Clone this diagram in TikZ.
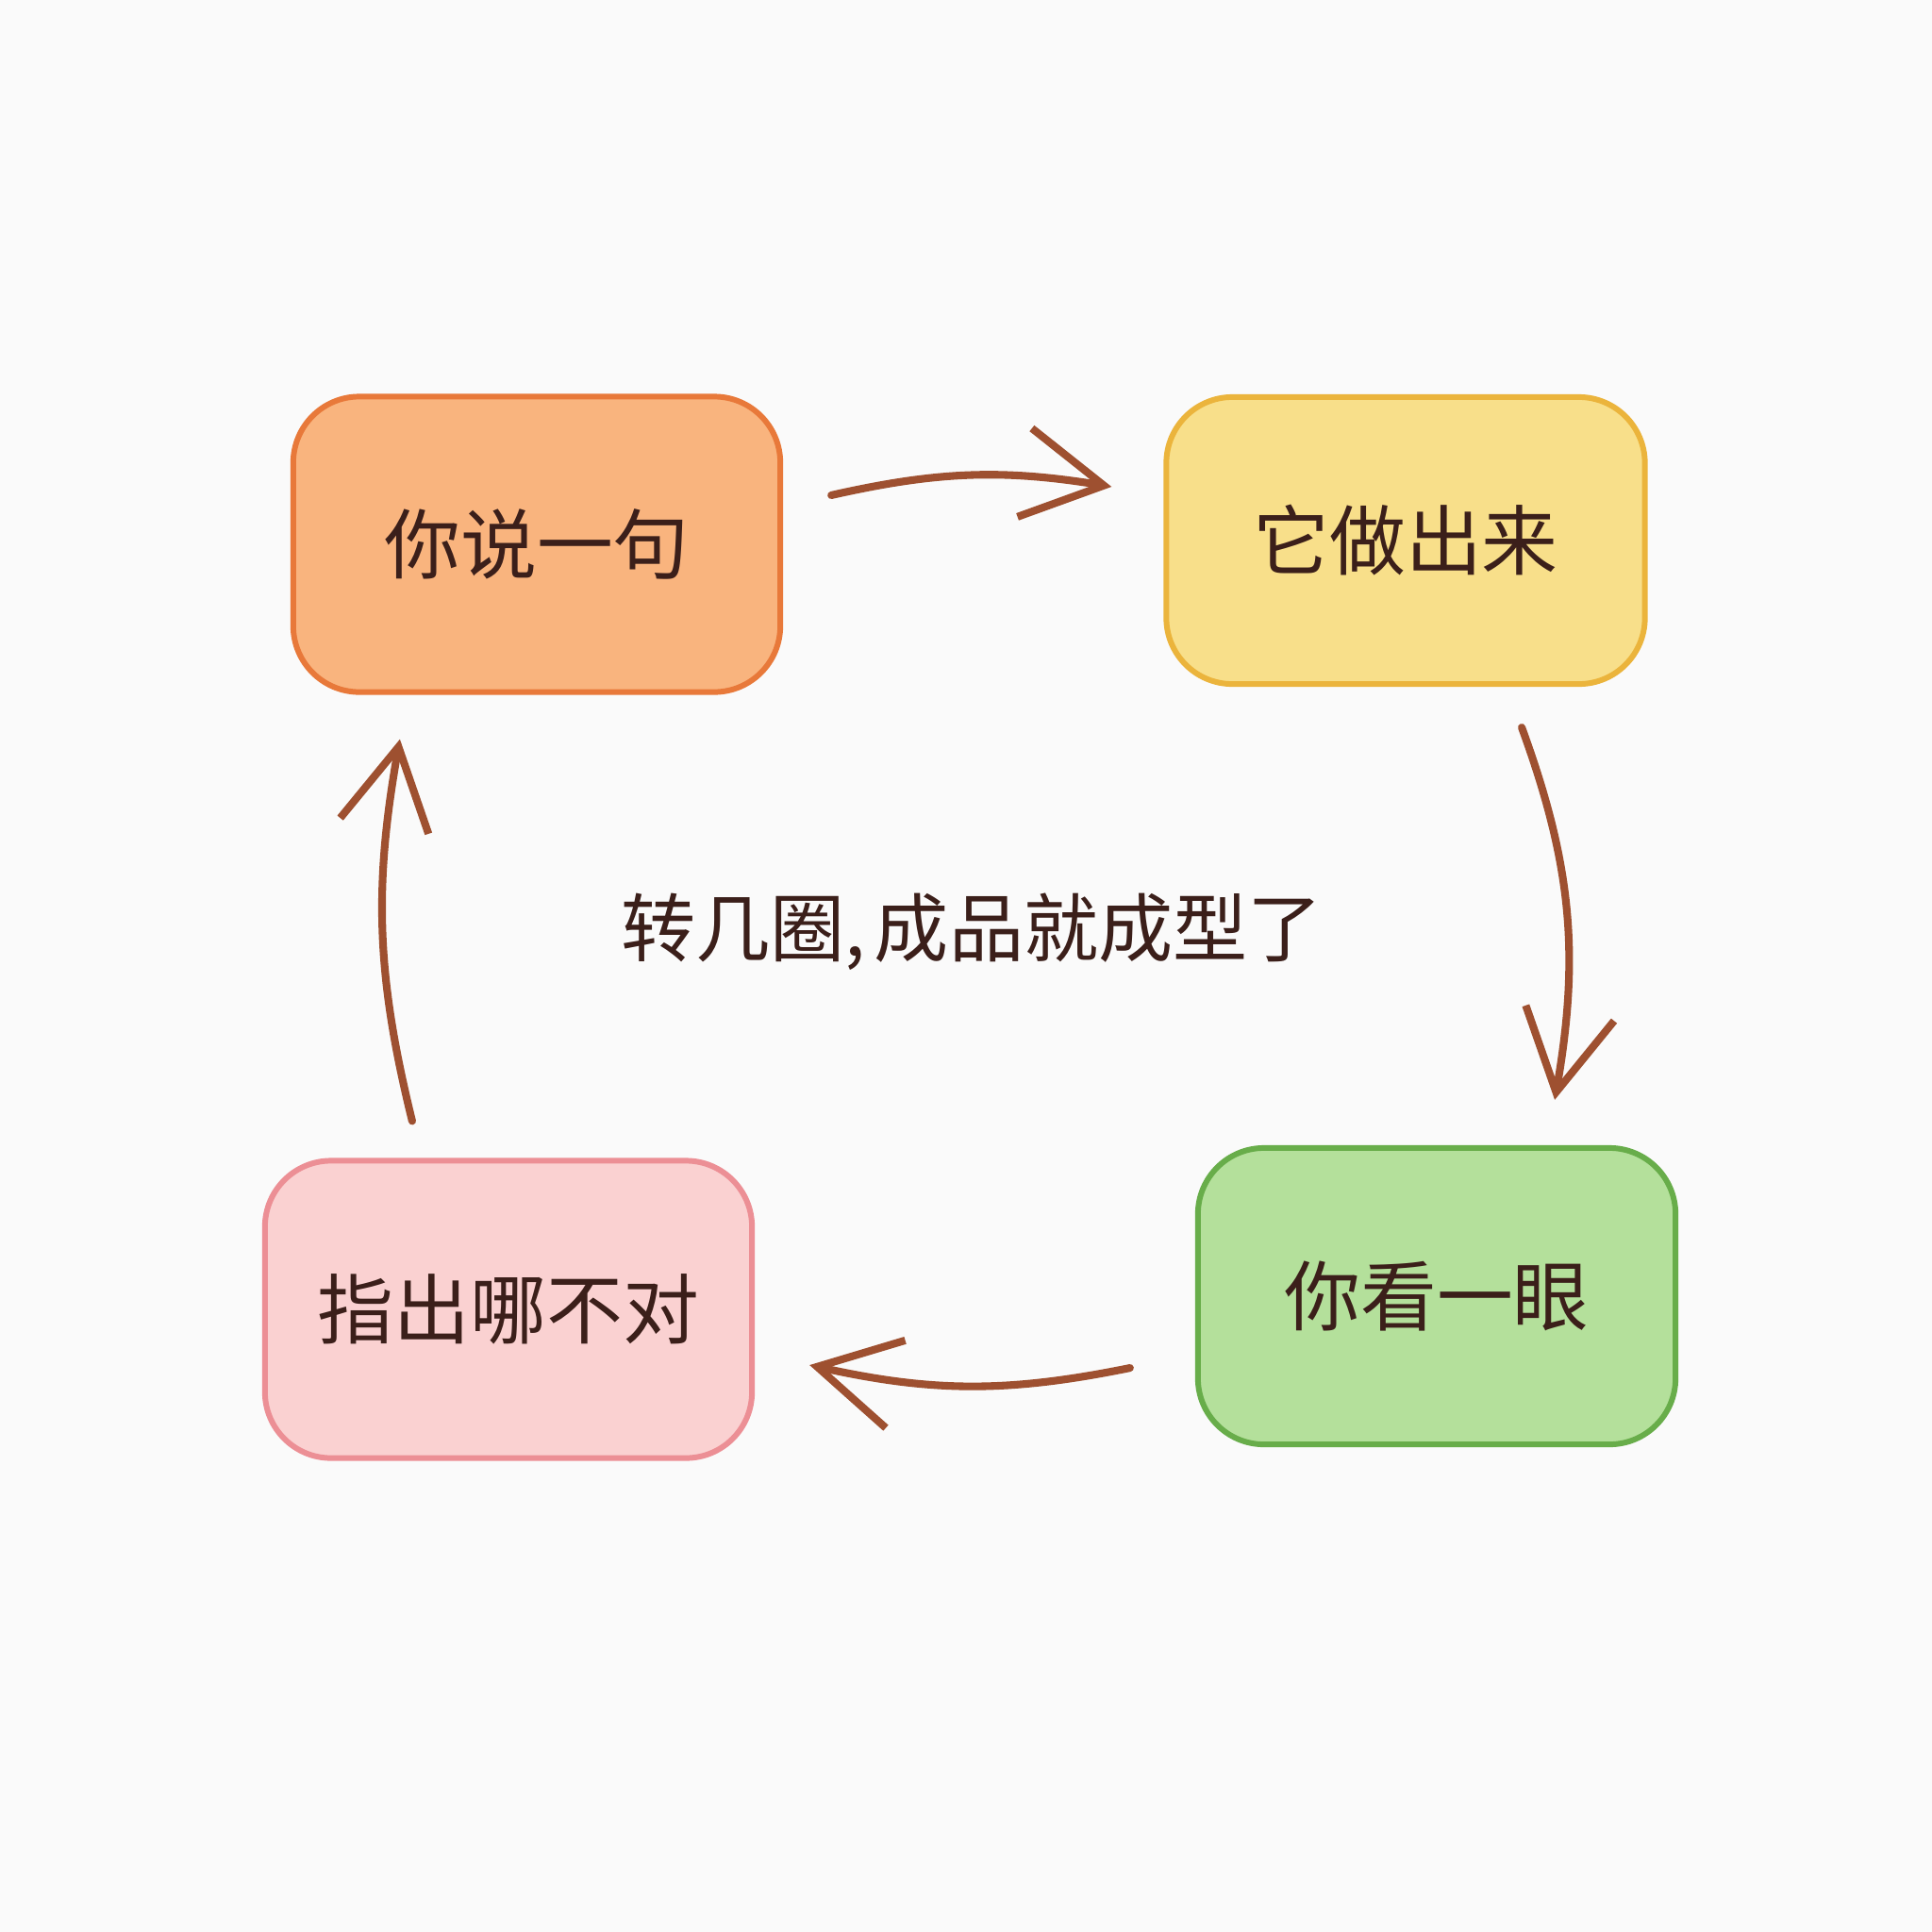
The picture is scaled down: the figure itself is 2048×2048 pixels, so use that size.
\documentclass[tikz,border=0pt]{standalone}
\usepackage{fontspec}
\newfontfamily\cjk{Noto Sans CJK SC}
\usetikzlibrary{arrows.meta}
\definecolor{bgc}{HTML}{FAFAFA}
\definecolor{txt}{HTML}{3B1F1A}
\definecolor{arrc}{HTML}{9E5030}
\definecolor{orF}{HTML}{F9B47E}\definecolor{orD}{HTML}{E8793A}
\definecolor{yeF}{HTML}{F8DF8A}\definecolor{yeD}{HTML}{EBB43C}
\definecolor{grF}{HTML}{B4E09B}\definecolor{grD}{HTML}{68AD4A}
\definecolor{piF}{HTML}{FAD1D1}\definecolor{piD}{HTML}{EC8F95}
\tikzset{
  boxnode/.style={rounded corners=0.7cm, line width=1.7pt, inner sep=0pt,
    font=\cjk\fontsize{23}{27}\selectfont, text=txt},
  arr/.style={draw=arrc, line width=2.3pt, line cap=round,
    -{Straight Barb[length=0.85cm,width=0.95cm,line width=2.3pt]}},
}
\begin{document}
\begin{tikzpicture}[x=0.01cm,y=-0.01cm]
\fill[bgc] (0,0) rectangle (2048,2048);
\useasboundingbox (0,0) rectangle (2048,2048);

\node[boxnode, fill=orF, draw=orD, minimum width=5.16cm, minimum height=3.13cm] (o) at (569,577) {你说一句};
\node[boxnode, fill=yeF, draw=yeD, minimum width=5.07cm, minimum height=3.04cm] (ye) at (1490,573) {它做出来};
\node[boxnode, fill=grF, draw=grD, minimum width=5.06cm, minimum height=3.14cm] (g) at (1523,1374) {你看一眼};
\node[boxnode, fill=piF, draw=piD, minimum width=5.16cm, minimum height=3.15cm] (p) at (539,1388) {指出哪不对};

\node[font=\cjk\fontsize{22.5}{27}\selectfont, text=txt] (c) at (1030,988) {转几圈,\kern0.12em成品就成型了};

\draw[arr] ([xshift=0.51cm,yshift=0.52cm]o.east) to[bend left=11] ([xshift=-0.55cm,yshift=0.57cm]ye.west);
\draw[arr] ([xshift=1.23cm,yshift=-0.43cm]ye.south) to[bend left=15] ([xshift=1.25cm,yshift=0.48cm]g.north);
\draw[arr] ([xshift=-0.69cm,yshift=-0.76cm]g.west) to[bend left=12] ([xshift=0.58cm,yshift=-0.59cm]p.east);
\draw[arr] ([xshift=-1.02cm,yshift=0.39cm]p.north) to[bend left=12] ([xshift=-1.45cm,yshift=-0.47cm]o.south);
\end{tikzpicture}
\end{document}
